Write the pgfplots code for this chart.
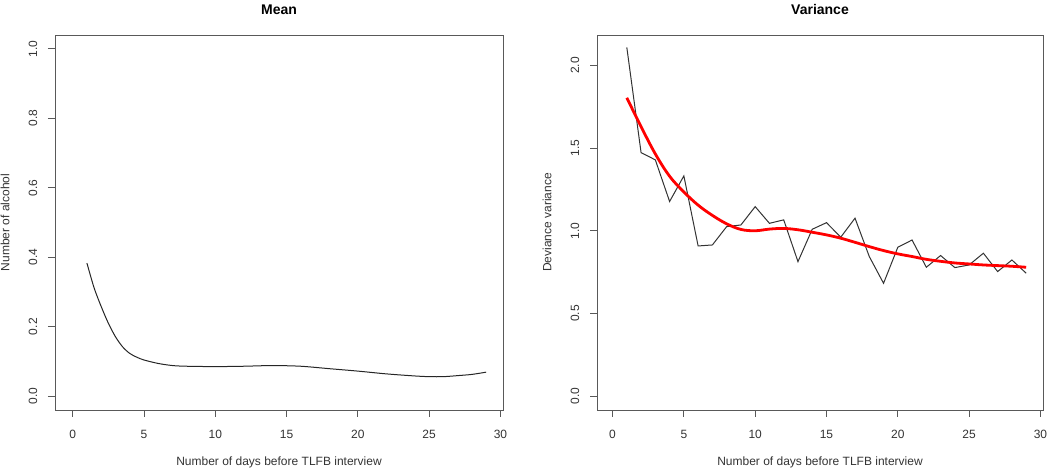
\documentclass[border=0pt]{standalone}
\usepackage{fontspec}
\setmainfont{Liberation Sans}
\usepackage{pgfplots}
\pgfplotsset{compat=1.18}
\definecolor{boxgray}{rgb}{0.35,0.35,0.35}
\definecolor{txtgray}{rgb}{0.2,0.2,0.2}

\pgfplotsset{
  rpanel/.style={
    scale only axis,
    width=448pt, height=375pt,
    axis line style={boxgray, line width=0.9pt},
    tick style={boxgray, line width=0.9pt},
    tick align=outside,
    major tick length=7pt,
    xtick pos=bottom, ytick pos=left,
    xtick={0,5,10,15,20,25,30},
    /pgf/number format/assume math mode=true,
    every tick label/.append style={font=\fontsize{12}{14}\selectfont, text=txtgray},
    xticklabel style={anchor=center, yshift=-17pt},
    yticklabel style={rotate=90, anchor=center, yshift=15pt,
      /pgf/number format/.cd, fixed, fixed zerofill, precision=1},
    label style={font=\fontsize{12}{14}\selectfont, text=txtgray, inner sep=0pt},
    xlabel style={at={(axis description cs:0.5,0)}, anchor=center, yshift=-52pt},
    ylabel style={at={(axis description cs:0,0.5)}, anchor=center, yshift=50pt},
    title style={at={(axis description cs:0.5,1)}, anchor=center, yshift=19pt, inner sep=0pt,
      font=\fontsize{14}{16}\selectfont\bfseries},
    xlabel={Number of days before TLFB interview},
  }
}

\begin{document}
\begin{tikzpicture}
\useasboundingbox (0,0) rectangle (1050pt,470pt);

\begin{axis}[rpanel,
  at={(55pt,60pt)}, anchor=south west,
  xmin=-1.24, xmax=30.18,
  ymin=-0.04, ymax=1.04,
  ytick={0,0.2,0.4,0.6,0.8,1.0},
  ylabel={Number of alcohol},
  title={Mean},
]
\addplot[black!85, line width=1pt, smooth, tension=0.5] coordinates {
(1,0.383) (1.5,0.312) (2,0.258) (2.5,0.210) (3,0.171) (3.5,0.142) (4,0.123) (4.5,0.112)
(5,0.104) (6,0.094) (7,0.088) (8,0.086) (10,0.085) (12,0.086) (14,0.088)
(16,0.086) (18,0.079) (20,0.072) (22,0.064) (24,0.058) (25,0.056) (26,0.056)
(27,0.059) (28,0.0625) (29,0.069)
};
\end{axis}

\begin{axis}[rpanel,
  at={(597pt,60pt)}, anchor=south west,
  width=446pt,
  xmin=-1.09, xmax=30.18,
  ymin=-0.085, ymax=2.185,
  ytick={0,0.5,1.0,1.5,2.0},
  ylabel={Deviance variance},
  title={Variance},
]
\addplot[black!80, line width=1pt] coordinates {
(1,2.11) (2,1.473) (3,1.429) (4,1.177) (5,1.332) (6,0.908) (7,0.914) (8,1.025)
(9,1.035) (10,1.146) (11,1.045) (12,1.066) (13,0.813) (14,1.009) (15,1.049)
(16,0.961) (17,1.076) (18,0.844) (19,0.682) (20,0.900) (21,0.944) (22,0.779)
(23,0.850) (24,0.777) (25,0.793) (26,0.864) (27,0.753) (28,0.823) (29,0.743)
};
\addplot[red, line width=2.8pt, smooth, tension=0.6] coordinates {
(1,1.805) (2,1.630) (3,1.465) (4,1.330) (5,1.235) (6,1.155) (7,1.093) (8,1.042)
(9,1.008) (10,1.000) (11,1.010) (12,1.014) (13,1.006) (14,0.991) (15,0.975)
(16,0.955) (17,0.930) (18,0.904) (19,0.880) (20,0.860) (21,0.844) (22,0.827)
(23,0.815) (24,0.805) (25,0.799) (26,0.793) (27,0.789) (28,0.785) (29,0.779)
};
\end{axis}
\end{tikzpicture}
\end{document}
